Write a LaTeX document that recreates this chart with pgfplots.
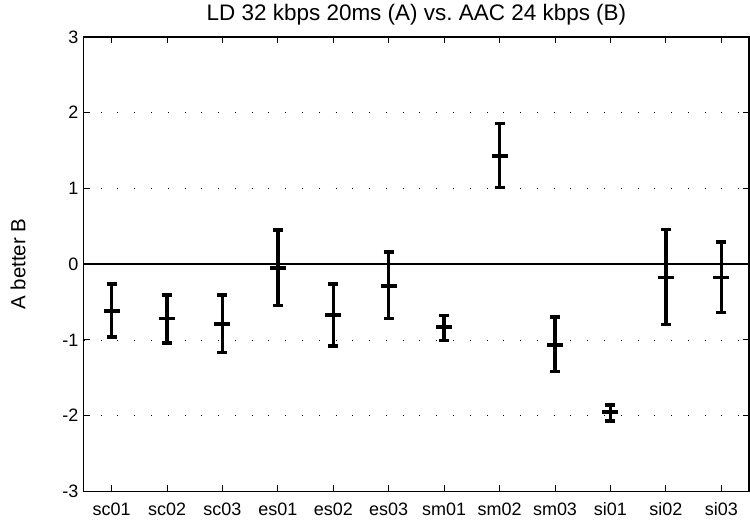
\documentclass[border=0pt]{standalone}
\usepackage{pgfplots}
\pgfplotsset{compat=1.18}
\usepackage{fontspec}
\setmainfont{Liberation Sans}
\begin{document}
\begin{tikzpicture}
\begin{axis}[
  scale only axis,
  width=666pt, height=455pt,
  xmin=0.5, xmax=12.5,
  ymin=-3, ymax=3,
  xtick={1,...,12},
  xticklabels={sc01,sc02,sc03,es01,es02,es03,sm01,sm02,sm03,si01,si02,si03},
  ytick={-3,-2,-1,0,1,2,3},
  yticklabels={-3,-2,-1,0,1,2,3},
  tick pos=both,
  tick align=inside,
  major tick length=6pt,
  tick style={black, line width=0.8pt},
  axis line style={black, line width=1.2pt},
  ymajorgrids=true,
  grid style={black, line width=0.7pt, dash pattern=on 0.8pt off 16pt},
  ticklabel style={font=\fontsize{18}{20}\selectfont},
  xticklabel style={yshift=-8pt},
  yticklabel style={xshift=-2pt},
  title={LD 32 kbps 20ms (A) vs.\ AAC 24 kbps (B)},
  title style={font=\fontsize{22.5}{26}\selectfont, at={(0.5,1)}, anchor=south, yshift=2pt},
  ylabel={A better B},
  ylabel style={font=\fontsize{20.5}{24}\selectfont, yshift=30pt},
  clip=false,
]
\addplot[black, line width=2.2pt, no marks, forget plot] coordinates {(0.5,0) (12.5,0)};
\addplot[
  only marks, black,
  mark=-, mark size=8pt, mark options={line width=3.4pt},
  error bars/.cd,
    y dir=both, y explicit,
    error bar style={line width=3.4pt, black},
    error mark options={rotate=90, mark size=5pt, line width=3.4pt, black},
] table[x=x, y=y, y error plus=ep, y error minus=em] {
x y ep em
1 -0.62 0.36 0.34
2 -0.72 0.31 0.32
3 -0.79 0.38 0.38
4 -0.05 0.50 0.50
5 -0.67 0.41 0.41
6 -0.29 0.45 0.43
7 -0.83 0.15 0.18
8 1.43 0.43 0.42
9 -1.07 0.37 0.35
10 -1.95 0.09 0.12
11 -0.18 0.64 0.62
12 -0.18 0.47 0.46
};
\end{axis}
\pgfresetboundingbox
\path[use as bounding box] (-84pt,-32pt) rectangle (667pt,492pt);
\end{tikzpicture}
\end{document}
